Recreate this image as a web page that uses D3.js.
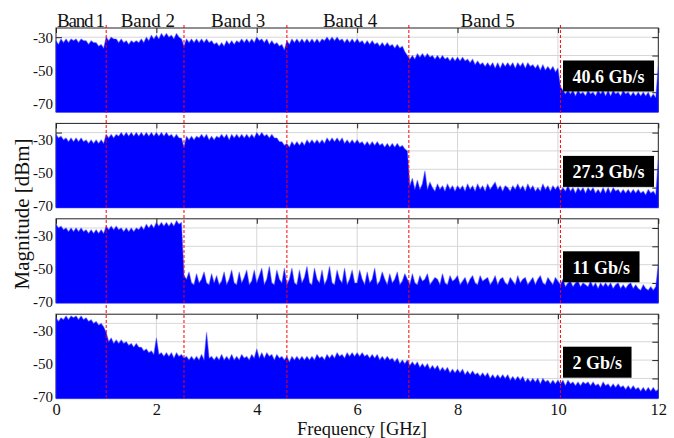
<!DOCTYPE html>
<html>
<head>
<meta charset="utf-8">
<script src="https://cdn.jsdelivr.net/npm/d3@7"></script>
<style>
  html, body { margin: 0; padding: 0; background: #fff; }
  svg { display: block; }
</style>
</head>
<body>
<svg id="chart"></svg>
<script>
// Spectra: upper envelope in dBm, one value every 0.05 GHz from 0 to 12 GHz
const freqStep = 0.05;

const spectrum40 = [
  -32,-34,-31,-33,-31,-33,-31,-32,-31,-33,-31,-32,-32,-34,-32,-33,-33,-35,-34,-36,
  -30,-32,-30,-31,-31,-33,-31,-33,-32,-34,-32,-33,-32,-33,-31,-33,-30,-32,-29,-31,
  -29,-31,-28,-30,-28,-30,-29,-31,-28,-30,-31,-35,-31,-33,-31,-33,-31,-33,-31,-33,
  -31,-33,-32,-34,-33,-35,-33,-35,-32,-34,-32,-34,-32,-33,-31,-33,-31,-33,-31,-33,
  -30,-32,-31,-33,-31,-34,-32,-34,-33,-35,-34,-37,-32,-34,-31,-33,-31,-33,-31,-33,
  -31,-33,-31,-33,-31,-33,-31,-32,-30,-32,-30,-32,-30,-32,-31,-33,-31,-33,-31,-33,
  -31,-33,-32,-34,-32,-34,-32,-34,-33,-35,-33,-35,-33,-35,-34,-36,-34,-36,-35,-38,
  -40,-42,-40,-42,-39,-41,-39,-41,-39,-41,-40,-42,-40,-42,-40,-42,-41,-43,-41,-43,
  -41,-43,-41,-43,-42,-44,-42,-45,-43,-45,-44,-46,-44,-46,-44,-47,-44,-47,-44,-46,
  -44,-46,-44,-47,-44,-46,-44,-47,-44,-46,-45,-47,-45,-48,-45,-48,-46,-48,-46,-49,
  -47,-57,-59,-61,-59,-61,-59,-62,-59,-61,-60,-62,-59,-61,-60,-62,-59,-61,-59,-62,
  -59,-62,-59,-61,-60,-62,-59,-61,-60,-62,-60,-62,-60,-62,-60,-62,-60,-63,-61,-63,
  -46
];

const spectrum27 = [
  -31,-33,-32,-34,-33,-35,-33,-35,-33,-35,-33,-35,-34,-36,-34,-36,-34,-36,-34,-36,
  -31,-33,-31,-33,-31,-32,-30,-32,-30,-32,-30,-32,-30,-32,-30,-32,-30,-32,-30,-32,
  -30,-32,-30,-32,-30,-32,-31,-33,-31,-33,-33,-38,-32,-34,-32,-34,-32,-33,-31,-33,
  -31,-34,-32,-34,-32,-33,-31,-33,-31,-34,-31,-33,-31,-33,-31,-33,-31,-33,-31,-33,
  -30,-32,-30,-32,-31,-33,-31,-33,-33,-35,-35,-37,-36,-38,-35,-37,-35,-37,-35,-37,
  -34,-36,-34,-36,-34,-36,-34,-36,-33,-35,-33,-35,-33,-35,-33,-36,-34,-36,-34,-36,
  -34,-36,-35,-37,-35,-37,-35,-37,-35,-37,-36,-38,-36,-38,-36,-38,-36,-38,-37,-39,
  -40,-59,-55,-61,-56,-61,-58,-51,-61,-57,-60,-62,-58,-61,-59,-62,-58,-61,-59,-62,
  -59,-61,-59,-62,-58,-61,-59,-62,-58,-61,-59,-62,-58,-61,-59,-57,-61,-59,-62,-59,
  -60,-62,-59,-61,-58,-61,-59,-62,-58,-61,-59,-62,-60,-62,-58,-61,-59,-62,-59,-61,
  -59,-62,-60,-62,-59,-62,-60,-63,-60,-62,-60,-63,-60,-62,-60,-63,-61,-63,-60,-63,
  -60,-63,-60,-62,-61,-63,-61,-63,-61,-63,-61,-63,-61,-63,-62,-64,-61,-63,-62,-64,
  -45
];

const spectrum11 = [
  -28,-30,-29,-31,-30,-32,-30,-32,-30,-32,-30,-32,-31,-33,-31,-33,-31,-33,-31,-33,
  -29,-31,-29,-31,-29,-31,-30,-32,-30,-32,-30,-32,-30,-31,-29,-31,-28,-30,-28,-30,
  -27,-29,-27,-29,-27,-29,-27,-29,-26,-28,-27,-56,-58,-54,-60,-61,-55,-60,-58,-54,
  -60,-61,-55,-60,-56,-61,-59,-54,-61,-58,-53,-60,-61,-54,-60,-57,-53,-61,-59,-53,
  -60,-56,-52,-61,-58,-51,-60,-61,-53,-58,-60,-52,-61,-58,-52,-60,-61,-53,-60,-57,
  -51,-60,-61,-52,-58,-60,-53,-61,-58,-51,-60,-61,-53,-58,-60,-52,-61,-58,-53,-60,
  -60,-53,-58,-61,-54,-60,-58,-52,-61,-59,-54,-58,-61,-55,-60,-58,-54,-61,-59,-55,
  -58,-61,-55,-60,-61,-56,-59,-58,-55,-61,-59,-57,-58,-61,-55,-60,-61,-56,-59,-58,
  -56,-61,-59,-57,-61,-58,-56,-60,-61,-56,-59,-58,-57,-61,-59,-56,-61,-58,-57,-60,
  -61,-57,-59,-61,-56,-60,-58,-57,-61,-59,-57,-61,-58,-56,-60,-61,-57,-59,-61,-57,
  -59,-61,-58,-62,-60,-59,-62,-60,-59,-62,-60,-61,-62,-59,-62,-60,-63,-60,-62,-60,
  -62,-60,-63,-61,-60,-63,-61,-63,-61,-60,-63,-61,-63,-64,-61,-63,-64,-62,-64,-62,
  -50
];

const spectrum2 = [
  -27,-29,-27,-28,-26,-28,-26,-27,-26,-28,-26,-28,-27,-29,-28,-30,-29,-31,-30,-32,
  -35,-40,-38,-41,-39,-41,-39,-41,-40,-42,-41,-43,-41,-43,-43,-45,-44,-46,-45,-47,
  -38,-47,-46,-48,-46,-48,-46,-49,-46,-48,-47,-49,-48,-50,-48,-50,-48,-50,-47,-50,
  -35,-49,-48,-50,-48,-50,-47,-50,-48,-50,-47,-50,-48,-50,-47,-49,-48,-50,-47,-49,
  -44,-49,-46,-49,-46,-48,-47,-50,-47,-49,-48,-50,-48,-51,-48,-50,-48,-50,-48,-50,
  -48,-50,-48,-50,-47,-49,-48,-50,-47,-49,-47,-49,-46,-48,-47,-49,-46,-48,-46,-48,
  -46,-48,-46,-48,-47,-49,-47,-49,-47,-50,-48,-50,-48,-50,-49,-51,-49,-52,-50,-52,
  -50,-53,-51,-53,-51,-54,-52,-54,-52,-55,-53,-55,-53,-56,-54,-56,-54,-57,-55,-57,
  -55,-57,-55,-58,-56,-58,-56,-58,-57,-59,-57,-59,-57,-60,-58,-60,-58,-60,-58,-60,
  -58,-61,-59,-61,-59,-61,-59,-62,-60,-62,-60,-62,-60,-63,-60,-62,-61,-63,-61,-63,
  -61,-63,-61,-64,-61,-63,-62,-64,-62,-64,-62,-63,-62,-64,-62,-64,-63,-65,-62,-64,
  -63,-65,-63,-65,-63,-65,-64,-66,-64,-66,-64,-66,-65,-67,-65,-67,-65,-67,-65,-67,
  -66
];

const spectra = [spectrum40, spectrum27, spectrum11, spectrum2];
const rates = ["40.6 Gb/s", "27.3 Gb/s", "11 Gb/s", "2 Gb/s"];

const bandNames = ["Band 1", "Band 2", "Band 3", "Band 4", "Band 5"];
const bandEdges = [1.0, 2.55, 4.6, 7.03, 10.05];
const bandLabelFreq = [0.5, 1.83, 3.63, 5.86, 8.6];

const xTicks = [0, 2, 4, 6, 8, 10, 12];
const yTicks = [-30, -40, -50, -60, -70];
const yLabels = [-30, -50, -70];

const dimensions = {
    width: 674,
    height: 438,
    marginLeft: 56,
    plotRight: 658.3,
    panelTop: 28,
    panelPitch: 95.4,
    panelHeight: 83.5
};

const serif = '"Liberation Serif", "Times New Roman", serif';

const svg = d3.select("#chart")
    .attr("width", dimensions.width)
    .attr("height", dimensions.height)
    .style("font-family", serif);

// Frequency scale, shared by all panels
const x = d3.scaleLinear()
    .domain([0, 12])
    .range([dimensions.marginLeft, dimensions.plotRight]);

function drawPanel(values, rate, index) {
    const top = dimensions.panelTop + index * dimensions.panelPitch;
    const h = dimensions.panelHeight;
    const g = svg.append("g").attr("transform", `translate(0, ${top})`);

    const y = d3.scaleLinear()
        .domain([-70.5, -25])
        .range([h, 0]);

    // tick labels on the left sit a little off the grid in the original
    const labelY = d3.scaleLinear()
        .domain([-30, -70])
        .range(index === 0 ? [9.5, 76] : [16.6, 82.4]);

    // Grid
    g.append("g").selectAll("line")
        .data(xTicks.slice(1, -1))
        .join("line")
        .attr("x1", d => x(d)).attr("x2", d => x(d))
        .attr("y1", 0).attr("y2", h)
        .attr("stroke", "#d6d6d6");
    g.append("g").selectAll("line")
        .data(yTicks)
        .join("line")
        .attr("x1", x(0)).attr("x2", x(12))
        .attr("y1", d => y(d)).attr("y2", d => y(d))
        .attr("stroke", "#d6d6d6");

    // Frame and inward ticks
    g.append("rect")
        .attr("x", x(0)).attr("y", 0)
        .attr("width", x(12) - x(0)).attr("height", h)
        .attr("fill", "none")
        .attr("stroke", "#222");

    g.append("g")
        .call(d3.axisTop(x).tickValues(xTicks).tickSize(-5).tickFormat(""))
        .call(a => a.select(".domain").remove())
        .selectAll("line").attr("stroke", "#222");
    g.append("g")
        .attr("transform", `translate(${x(12)}, 0)`)
        .call(d3.axisRight(y).tickValues(yTicks).tickSize(-6).tickFormat(""))
        .call(a => a.select(".domain").remove())
        .selectAll("line").attr("stroke", "#222");
    g.append("g")
        .attr("transform", `translate(${x(0)}, 0)`)
        .call(d3.axisLeft(y).tickValues(yTicks).tickSize(-6).tickFormat(""))
        .call(a => a.select(".domain").remove())
        .selectAll("line").attr("stroke", "#222");

    // Spectrum
    const points = values.map((v, i) => [i * freqStep, v]);
    const area = d3.area()
        .x(d => x(d[0]))
        .y0(h + 1)
        .y1(d => y(d[1]));

    g.append("path")
        .datum(points)
        .attr("fill", "#0000ff")
        .attr("stroke", "rgba(60, 60, 255, 0.45)")
        .attr("stroke-width", 1.2)
        .attr("stroke-linejoin", "round")
        .attr("d", area);

    // Left tick labels
    g.append("g")
        .attr("transform", `translate(${x(0)}, 0)`)
        .call(d3.axisLeft(labelY).tickValues(yLabels).tickSize(0).tickPadding(3).tickFormat(d => String(d)))
        .call(a => a.select(".domain").remove())
        .call(a => a.selectAll("text")
            .attr("font-family", serif)
            .attr("font-size", 15)
            .attr("fill", "#111"));

    // Bit rate tag
    const tag = g.append("g");
    const tagText = tag.append("text")
        .attr("x", 572.5)
        .attr("y", 55)
        .attr("fill", "#fff")
        .attr("font-weight", "bold")
        .attr("font-size", 18)
        .text(rate);
    const w = tagText.node().getComputedTextLength();
    tag.insert("rect", "text")
        .attr("x", 563)
        .attr("y", 32.5)
        .attr("width", w + 19)
        .attr("height", 31)
        .attr("fill", "#000");

    // Frequency labels only under the last panel
    if (index === spectra.length - 1) {
        g.append("g")
            .attr("transform", `translate(0, ${h})`)
            .call(d3.axisBottom(x).tickValues(xTicks).tickSize(0).tickPadding(5.5).tickFormat(d => String(d)))
            .call(a => a.select(".domain").remove())
            .call(a => a.selectAll("text")
                .attr("font-family", serif)
                .attr("font-size", 16.5)
                .attr("fill", "#111"));
    }
}

spectra.forEach((values, i) => drawPanel(values, rates[i], i));

// Band boundaries
svg.append("g").selectAll("line")
    .data(bandEdges)
    .join("line")
    .attr("x1", d => x(d)).attr("x2", d => x(d))
    .attr("y1", 25)
    .attr("y2", dimensions.panelTop + 3 * dimensions.panelPitch + dimensions.panelHeight)
    .attr("stroke", "#ff0000")
    .attr("stroke-width", 1)
    .attr("stroke-dasharray", "3,2");

// Band names
svg.append("g").selectAll("text")
    .data(bandNames)
    .join("text")
    .attr("x", (d, i) => x(bandLabelFreq[i]))
    .attr("y", 26.5)
    .attr("text-anchor", "middle")
    .attr("font-size", 19)
    .attr("fill", "#111")
    .attr("textLength", (d, i) => i === 0 ? 48 : null)
    .attr("lengthAdjust", "spacing")
    .text(d => d);

// Axis titles
svg.append("text")
    .attr("transform", "translate(29, 214) rotate(-90)")
    .attr("text-anchor", "middle")
    .attr("font-size", 21)
    .attr("fill", "#111")
    .text("Magnitude [dBm]");

svg.append("text")
    .attr("x", 362)
    .attr("y", 435)
    .attr("text-anchor", "middle")
    .attr("font-size", 18.5)
    .attr("fill", "#111")
    .text("Frequency [GHz]");
</script>
</body>
</html>
